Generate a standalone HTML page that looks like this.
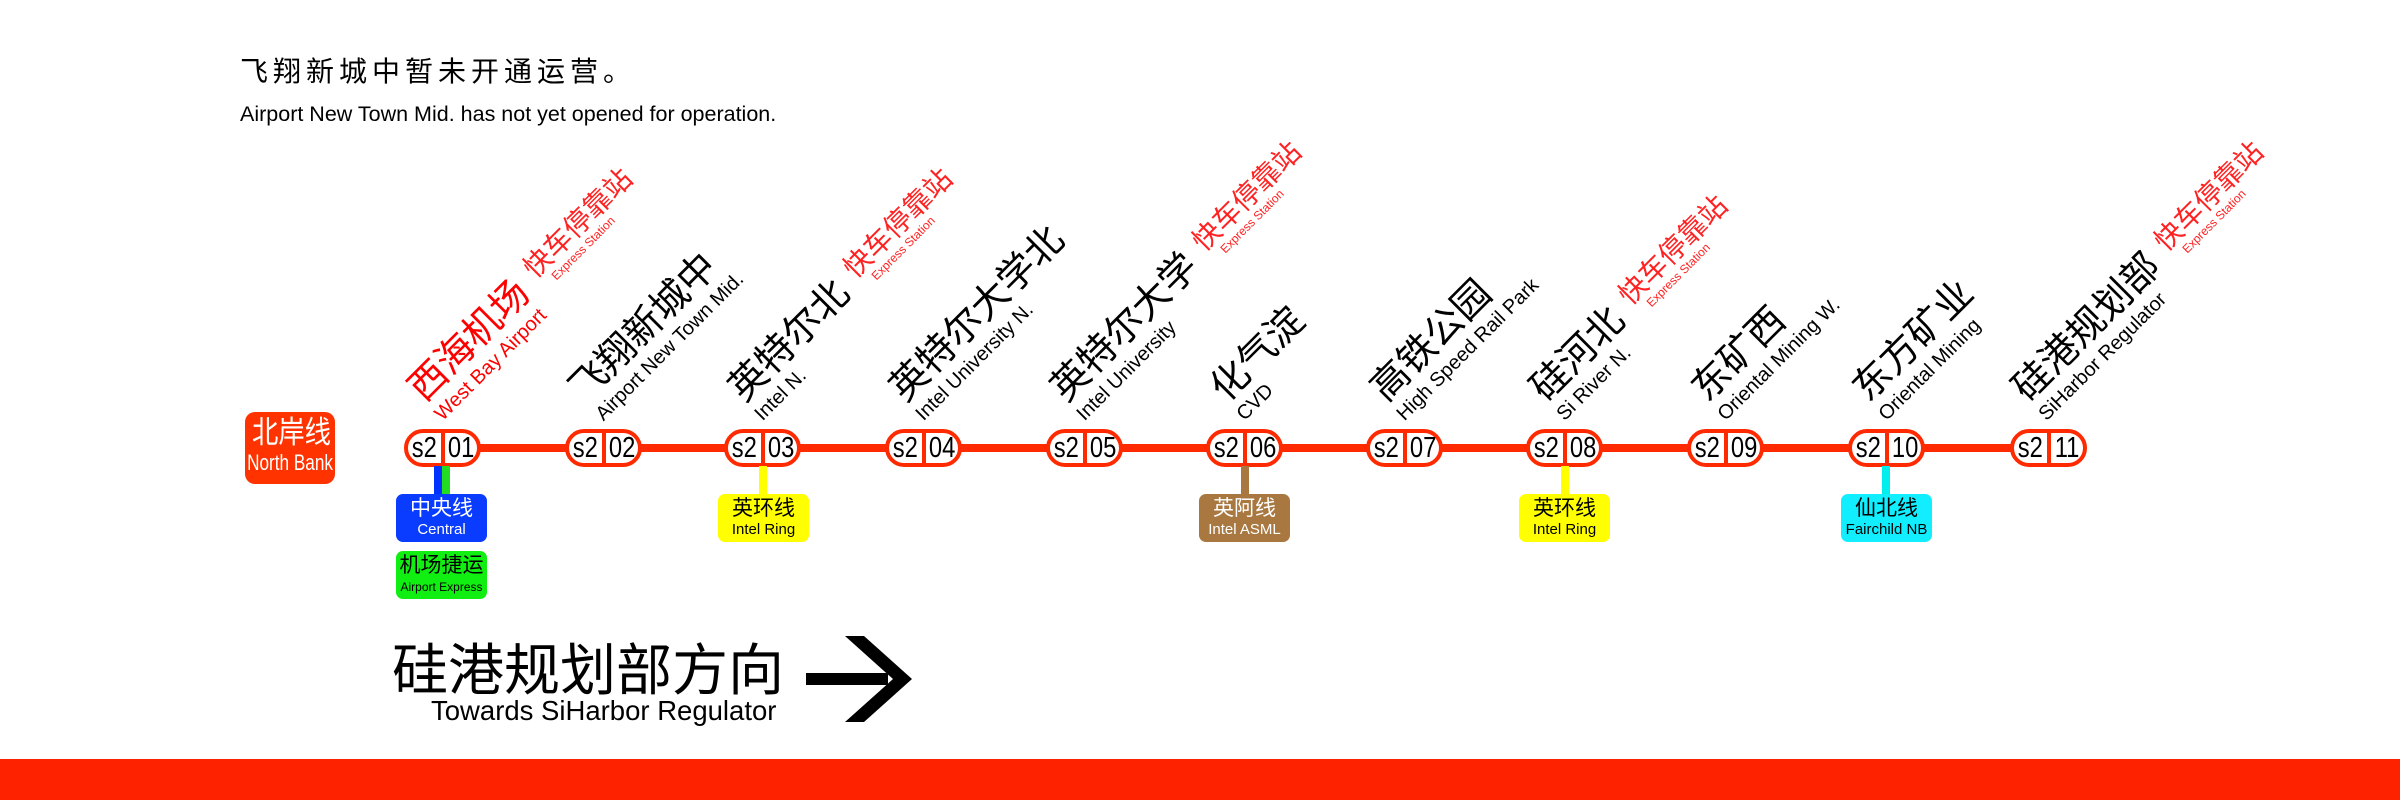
<!DOCTYPE html>
<html><head><meta charset="utf-8">
<style>
*{margin:0;padding:0;box-sizing:border-box}
body{width:2400px;height:800px;position:relative;background:#fff;overflow:hidden;font-family:"Liberation Sans","Noto Sans CJK SC",sans-serif}
.abs{position:absolute}
.line{position:absolute;left:440px;top:444px;width:1610px;height:8px;background:#ff2a00}
.pill{position:absolute;top:429px;width:77px;height:38px;border:4px solid #ff2a00;border-radius:19px;background:#fff;display:flex;font-size:29px;line-height:30px;color:#000}
.pill span{flex:1;text-align:center;display:block}
.pill span em{font-style:normal;display:inline-block;transform:scaleX(0.82)}
.pill span+span{border-left:4px solid #ff2a00}
.lab{position:absolute;width:0;height:0;transform:rotate(-45deg);transform-origin:0 0}
.lab .in{position:absolute;left:0;bottom:0;white-space:nowrap;color:#000}
.cn{font-size:38px;line-height:42px}
.en{font-size:20px;line-height:22px}
.ex{display:inline-block;color:#f22;margin-left:14px;vertical-align:bottom;line-height:1}
.ex b{display:block;font-weight:normal;font-size:28px;line-height:30px}
.ex i{display:block;font-style:normal;font-size:12px;line-height:12px;margin-left:14px}
.stub{position:absolute;top:466px;width:8px;height:28px}
.box{position:absolute;top:494px;width:91px;height:48px;border-radius:7px;text-align:center;white-space:nowrap}
.box b{display:block;font-weight:normal;font-size:21px;line-height:26px;padding-top:2px}
.box i{display:block;font-style:normal;font-size:15px;line-height:16px}
.nb em{font-style:normal;display:inline-block;transform:scaleX(0.85)}
</style></head><body>

<div class="abs" style="left:240px;top:56px;font-size:28px;line-height:32px;letter-spacing:5px">飞翔新城中暂未开通运营。</div>
<div class="abs" style="left:240px;top:102px;font-size:21.5px;line-height:24px">Airport New Town Mid. has not yet opened for operation.</div>

<div class="abs nb" style="left:245px;top:412px;width:90px;height:72px;background:#ff3300;border-radius:10px;color:#fff;text-align:center;white-space:nowrap;overflow:visible">
<div style="font-size:31px;line-height:36px;padding-top:3px"><em>北岸线</em></div>
<div style="font-size:22px;line-height:24px;margin:0 -20px"><em style="transform:scaleX(0.78)">North Bank</em></div>
</div>

<div class="line"></div>

<!-- pills -->
<div class="pill" style="left:404px"><span><em>s2</em></span><span><em>01</em></span></div>
<div class="pill" style="left:565px"><span><em>s2</em></span><span><em>02</em></span></div>
<div class="pill" style="left:724px"><span><em>s2</em></span><span><em>03</em></span></div>
<div class="pill" style="left:885px"><span><em>s2</em></span><span><em>04</em></span></div>
<div class="pill" style="left:1046px"><span><em>s2</em></span><span><em>05</em></span></div>
<div class="pill" style="left:1206px"><span><em>s2</em></span><span><em>06</em></span></div>
<div class="pill" style="left:1366px"><span><em>s2</em></span><span><em>07</em></span></div>
<div class="pill" style="left:1526px"><span><em>s2</em></span><span><em>08</em></span></div>
<div class="pill" style="left:1687px"><span><em>s2</em></span><span><em>09</em></span></div>
<div class="pill" style="left:1848px"><span><em>s2</em></span><span><em>10</em></span></div>
<div class="pill" style="left:2010px"><span><em>s2</em></span><span><em>11</em></span></div>

<!-- labels -->
<div class="lab" style="left:446px;top:425px"><div class="in" style="color:#f00"><span class="cn">西海机场</span><span class="ex"><b>快车停靠站</b><i>Express Station</i></span><div class="en">West Bay Airport</div></div></div>
<div class="lab" style="left:607px;top:425px"><div class="in"><span class="cn">飞翔新城中</span><div class="en">Airport New Town Mid.</div></div></div>
<div class="lab" style="left:766px;top:425px"><div class="in"><span class="cn">英特尔北</span><span class="ex"><b>快车停靠站</b><i>Express Station</i></span><div class="en">Intel N.</div></div></div>
<div class="lab" style="left:927px;top:425px"><div class="in"><span class="cn">英特尔大学北</span><div class="en">Intel University N.</div></div></div>
<div class="lab" style="left:1088px;top:425px"><div class="in"><span class="cn">英特尔大学</span><span class="ex"><b>快车停靠站</b><i>Express Station</i></span><div class="en">Intel University</div></div></div>
<div class="lab" style="left:1248px;top:425px"><div class="in"><span class="cn">化气淀</span><div class="en">CVD</div></div></div>
<div class="lab" style="left:1408px;top:425px"><div class="in"><span class="cn">高铁公园</span><div class="en">High Speed Rail Park</div></div></div>
<div class="lab" style="left:1568px;top:425px"><div class="in"><span class="cn">硅河北</span><span class="ex"><b>快车停靠站</b><i>Express Station</i></span><div class="en">Si River N.</div></div></div>
<div class="lab" style="left:1729px;top:425px"><div class="in"><span class="cn">东矿西</span><div class="en">Oriental Mining W.</div></div></div>
<div class="lab" style="left:1890px;top:425px"><div class="in"><span class="cn">东方矿业</span><div class="en">Oriental Mining</div></div></div>
<div class="lab" style="left:2050px;top:425px"><div class="in"><span class="cn">硅港规划部</span><span class="ex"><b>快车停靠站</b><i>Express Station</i></span><div class="en">SiHarbor Regulator</div></div></div>

<!-- transfers -->
<div class="stub" style="left:434px;background:#0033ff;width:8px"></div>
<div class="stub" style="left:442px;background:#22dd22;width:8px"></div>
<div class="box" style="left:396px;background:#0a3cff;color:#fff"><b>中央线</b><i>Central</i></div>
<div class="box" style="left:396px;top:551px;background:#11ee11;color:#000"><b>机场捷运</b><i style="font-size:12px">Airport Express</i></div>

<div class="stub" style="left:759px;background:#ffff00"></div>
<div class="box" style="left:718px;background:#ffff00;color:#000"><b>英环线</b><i>Intel Ring</i></div>

<div class="stub" style="left:1241px;background:#a87840"></div>
<div class="box" style="left:1199px;background:#a87840;color:#fff"><b>英阿线</b><i>Intel ASML</i></div>

<div class="stub" style="left:1561px;background:#ffff00"></div>
<div class="box" style="left:1519px;background:#ffff00;color:#000"><b>英环线</b><i>Intel Ring</i></div>

<div class="stub" style="left:1882px;background:#00eeee"></div>
<div class="box" style="left:1841px;background:#11eeff;color:#000"><b>仙北线</b><i>Fairchild NB</i></div>

<!-- direction -->
<div class="abs" style="left:392px;top:640px;font-size:56px;line-height:62px">硅港规划部方向</div>
<div class="abs" style="left:431px;top:696px;font-size:27.5px;line-height:30px">Towards SiHarbor Regulator</div>
<svg class="abs" style="left:800px;top:630px" width="120" height="100" viewBox="0 0 120 100">
<rect x="6" y="43" width="82" height="12" fill="#000"/>
<polygon points="45,6 64,6 112,49 64,92 45,92 93,49" fill="#000"/>
</svg>

<div class="abs" style="left:0;top:759px;width:2400px;height:41px;background:#ff2200"></div>
</body></html>
